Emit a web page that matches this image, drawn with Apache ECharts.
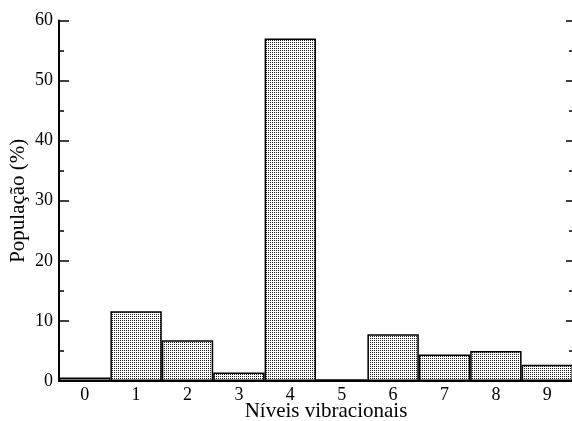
<!DOCTYPE html>
<html><head><meta charset="utf-8">
<script src="https://cdn.jsdelivr.net/npm/echarts@6/dist/echarts.min.js"></script>
<style>html,body{margin:0;padding:0;background:#fff}#c{width:572px;height:421px}</style>
</head><body><div id="c"></div>
<script>
const categories = ['0','1','2','3','4','5','6','7','8','9'];
const population = [0.6, 11.6, 6.8, 1.4, 57.0, 0.3, 7.8, 4.4, 5.0, 2.7];
const yTicks = [0, 10, 20, 30, 40, 50, 60];

function makePattern() {
  const c = document.createElement('canvas');
  c.width = 2; c.height = 2;
  const g = c.getContext('2d');
  g.fillStyle = '#ffffff'; g.fillRect(0, 0, 2, 2);
  g.fillStyle = '#222222';
  g.fillRect(0, 0, 1, 1);
  return c;
}

const chart = echarts.init(document.getElementById('c'), null, {renderer: 'canvas'});
const font = 'Liberation Serif';
chart.setOption({
  animation: false,
  backgroundColor: '#fff',
  grid: {left: 59, top: 20.5, width: 514, height: 360.5, show: false, containLabel: false, outerBoundsMode: 'none'},
  xAxis: [{
    type: 'category', data: categories, position: 'bottom',
    boundaryGap: true,
    axisLine: {lineStyle: {color: '#000', width: 2}},
    axisTick: {show: false},
    axisLabel: {color: '#000', fontFamily: font, fontSize: 18, margin: 5},
    name: 'Níveis vibracionais', nameLocation: 'middle', nameGap: 20, nameMoveOverlap: false,
    nameTextStyle: {color: '#000', fontFamily: font, fontSize: 21, padding: [0, 0, 0, 20]}
  }, {
    type: 'category', data: categories, position: 'top',
    axisLine: {lineStyle: {color: '#000', width: 2}},
    axisTick: {show: false}, axisLabel: {show: false}
  }],
  yAxis: [{
    type: 'value', min: yTicks[0], max: yTicks[yTicks.length - 1], interval: 10,
    axisLine: {show: true, lineStyle: {color: '#000', width: 2}},
    axisTick: {show: true, inside: true, length: 10, lineStyle: {color: '#000', width: 1.5}},
    minorTick: {show: true, splitNumber: 2, length: 5, lineStyle: {color: '#000', width: 1.5}},
    splitLine: {show: false},
    axisLabel: {color: '#000', fontFamily: font, fontSize: 18, margin: 6},
    name: 'População (%)', nameLocation: 'middle', nameGap: 30, nameMoveOverlap: false,
    nameTextStyle: {color: '#000', fontFamily: font, fontSize: 21}
  }, {
    type: 'value', position: 'right', min: 0, max: 60, interval: 10,
    axisLine: {show: true, lineStyle: {color: '#000', width: 2}},
    axisTick: {show: true, inside: true, length: 7, lineStyle: {color: '#000', width: 1.5}},
    minorTick: {show: true, splitNumber: 2, length: 4, lineStyle: {color: '#000', width: 1.5}},
    splitLine: {show: false}, axisLabel: {show: false}
  }],
  series: [{
    type: 'bar', data: population, barCategoryGap: '0%',
    itemStyle: {color: {image: makePattern(), repeat: 'repeat'}, borderColor: '#000', borderWidth: 1.5}
  }]
});
</script></body></html>
